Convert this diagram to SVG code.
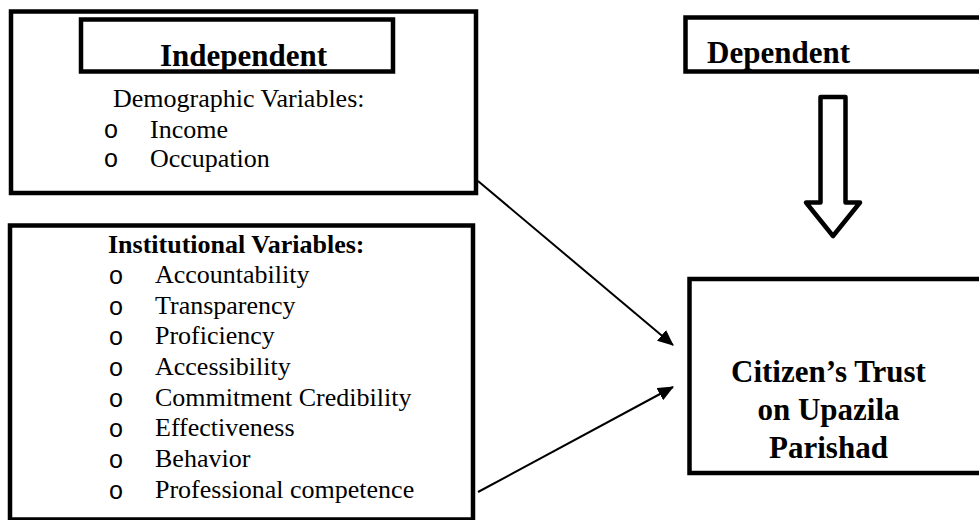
<svg xmlns="http://www.w3.org/2000/svg" width="979" height="520" viewBox="0 0 979 520">
<defs>
<style>
.box{fill:#fff;stroke:#000;stroke-width:4.5}
.hb{font-family:"Liberation Serif","Times New Roman",serif;font-weight:bold;fill:#000}
.tx{font-family:"Liberation Serif","Times New Roman",serif;font-size:26px;fill:#000}
.bl{font-family:"Liberation Mono","Courier New",monospace;font-size:25px;fill:#000;text-anchor:middle}
.conn{stroke:#000;stroke-width:2;fill:none}
</style>
<marker id="ah" markerWidth="16" markerHeight="14" refX="15" refY="7" orient="auto" markerUnits="userSpaceOnUse">
<path d="M0,0 L16,7 L0,14 Z" fill="#000"/>
</marker>
</defs>
<rect width="979" height="520" fill="#fff"/>
<g id="independent">
<rect class="box" x="11" y="11.5" width="465" height="181.5"/>
<rect class="box" x="81" y="19.5" width="312" height="52"/>
<text class="hb" x="160" y="66" font-size="31">Independent</text>
<text class="tx" x="113" y="107">Demographic Variables:</text>
<text class="bl" x="111" y="138">o</text>
<text class="tx" x="150" y="138">Income</text>
<text class="bl" x="111" y="167">o</text>
<text class="tx" x="150" y="167">Occupation</text>
</g>
<g id="institutional">
<rect class="box" x="10" y="225.5" width="463" height="294"/>
<text class="hb" x="108" y="253" font-size="26">Institutional Variables:</text>
<text class="bl" x="116" y="284">o</text><text class="tx" x="155" y="283">Accountability</text>
<text class="bl" x="116" y="315">o</text><text class="tx" x="155" y="314">Transparency</text>
<text class="bl" x="116" y="345">o</text><text class="tx" x="155" y="344">Proficiency</text>
<text class="bl" x="116" y="376">o</text><text class="tx" x="155" y="375">Accessibility</text>
<text class="bl" x="116" y="407">o</text><text class="tx" x="155" y="406">Commitment Credibility</text>
<text class="bl" x="116" y="437">o</text><text class="tx" x="155" y="436">Effectiveness</text>
<text class="bl" x="116" y="468">o</text><text class="tx" x="155" y="467">Behavior</text>
<text class="bl" x="116" y="499">o</text><text class="tx" x="155" y="498">Professional competence</text>
</g>
<g id="dependent">
<rect class="box" x="685.5" y="17.5" width="300" height="54"/>
<text class="hb" x="707" y="63" font-size="31">Dependent</text>
</g>
<g id="block-arrow">
<polygon points="820.5,97 845.5,97 845.5,202.5 860,202.5 833,236 806,202.5 820.5,202.5" fill="#fff" stroke="#000" stroke-width="4.5" stroke-linejoin="round"/>
</g>
<g id="trust">
<rect class="box" x="689.5" y="279" width="300" height="194"/>
<text class="hb" x="828.5" y="382" font-size="31" text-anchor="middle">Citizen’s Trust</text>
<text class="hb" x="828.5" y="420" font-size="31" text-anchor="middle">on Upazila</text>
<text class="hb" x="828.5" y="458" font-size="31" text-anchor="middle">Parishad</text>
</g>
<g id="connectors">
<line class="conn" x1="478" y1="181" x2="673" y2="345" marker-end="url(#ah)"/>
<line class="conn" x1="478" y1="492" x2="673" y2="387" marker-end="url(#ah)"/>
</g>
</svg>
